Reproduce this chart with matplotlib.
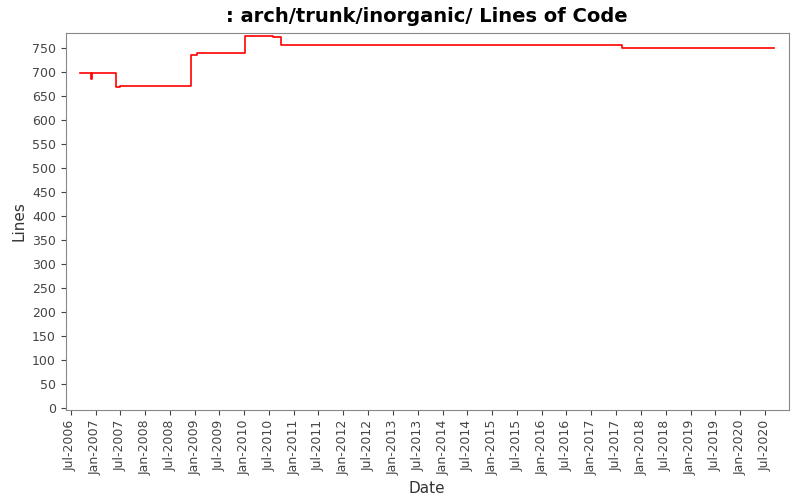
import matplotlib
matplotlib.use("Agg")
import matplotlib.pyplot as plt
import matplotlib.dates as mdates
import pandas as pd

# step points (date, lines)
dates = ["2006-09-10", "2006-09-20", "2006-12-01", "2006-12-03", "2007-05-28",
         "2007-06-28", "2008-12-01", "2009-01-20", "2010-01-05", "2010-07-28",
         "2010-10-01", "2012-11-05", "2017-08-15", "2020-09-08"]
lines = [698, 697, 685, 697, 668, 671, 735, 739, 775, 773, 757, 755, 749, 749]

d = pd.to_datetime(dates)

fig = plt.figure(figsize=(8, 5), dpi=100)
ax = fig.add_axes([0.082, 0.18, 0.904, 0.754])
ax.step(d, lines, where="post", color="red", lw=1.2)

ax.set_xlim(pd.Timestamp("2006-05-25"), pd.Timestamp("2020-12-25"))
ax.set_ylim(-5, 781)
ax.set_yticks(range(0, 751, 50))
ax.xaxis.set_major_locator(mdates.MonthLocator(bymonth=[1, 7]))
ax.xaxis.set_major_formatter(mdates.DateFormatter("%b-%Y"))
plt.setp(ax.get_xticklabels(), rotation=90)
ax.tick_params(labelsize=9, colors="#444444")
for s in ax.spines.values():
    s.set_color("#888888")

ax.set_title(": arch/trunk/inorganic/ Lines of Code", fontsize=14, fontweight="bold", pad=8)
ax.set_xlabel("Date", fontsize=11, color="#333333")
ax.set_ylabel("Lines", fontsize=11, color="#333333")

fig.savefig("out.png", dpi=100)
